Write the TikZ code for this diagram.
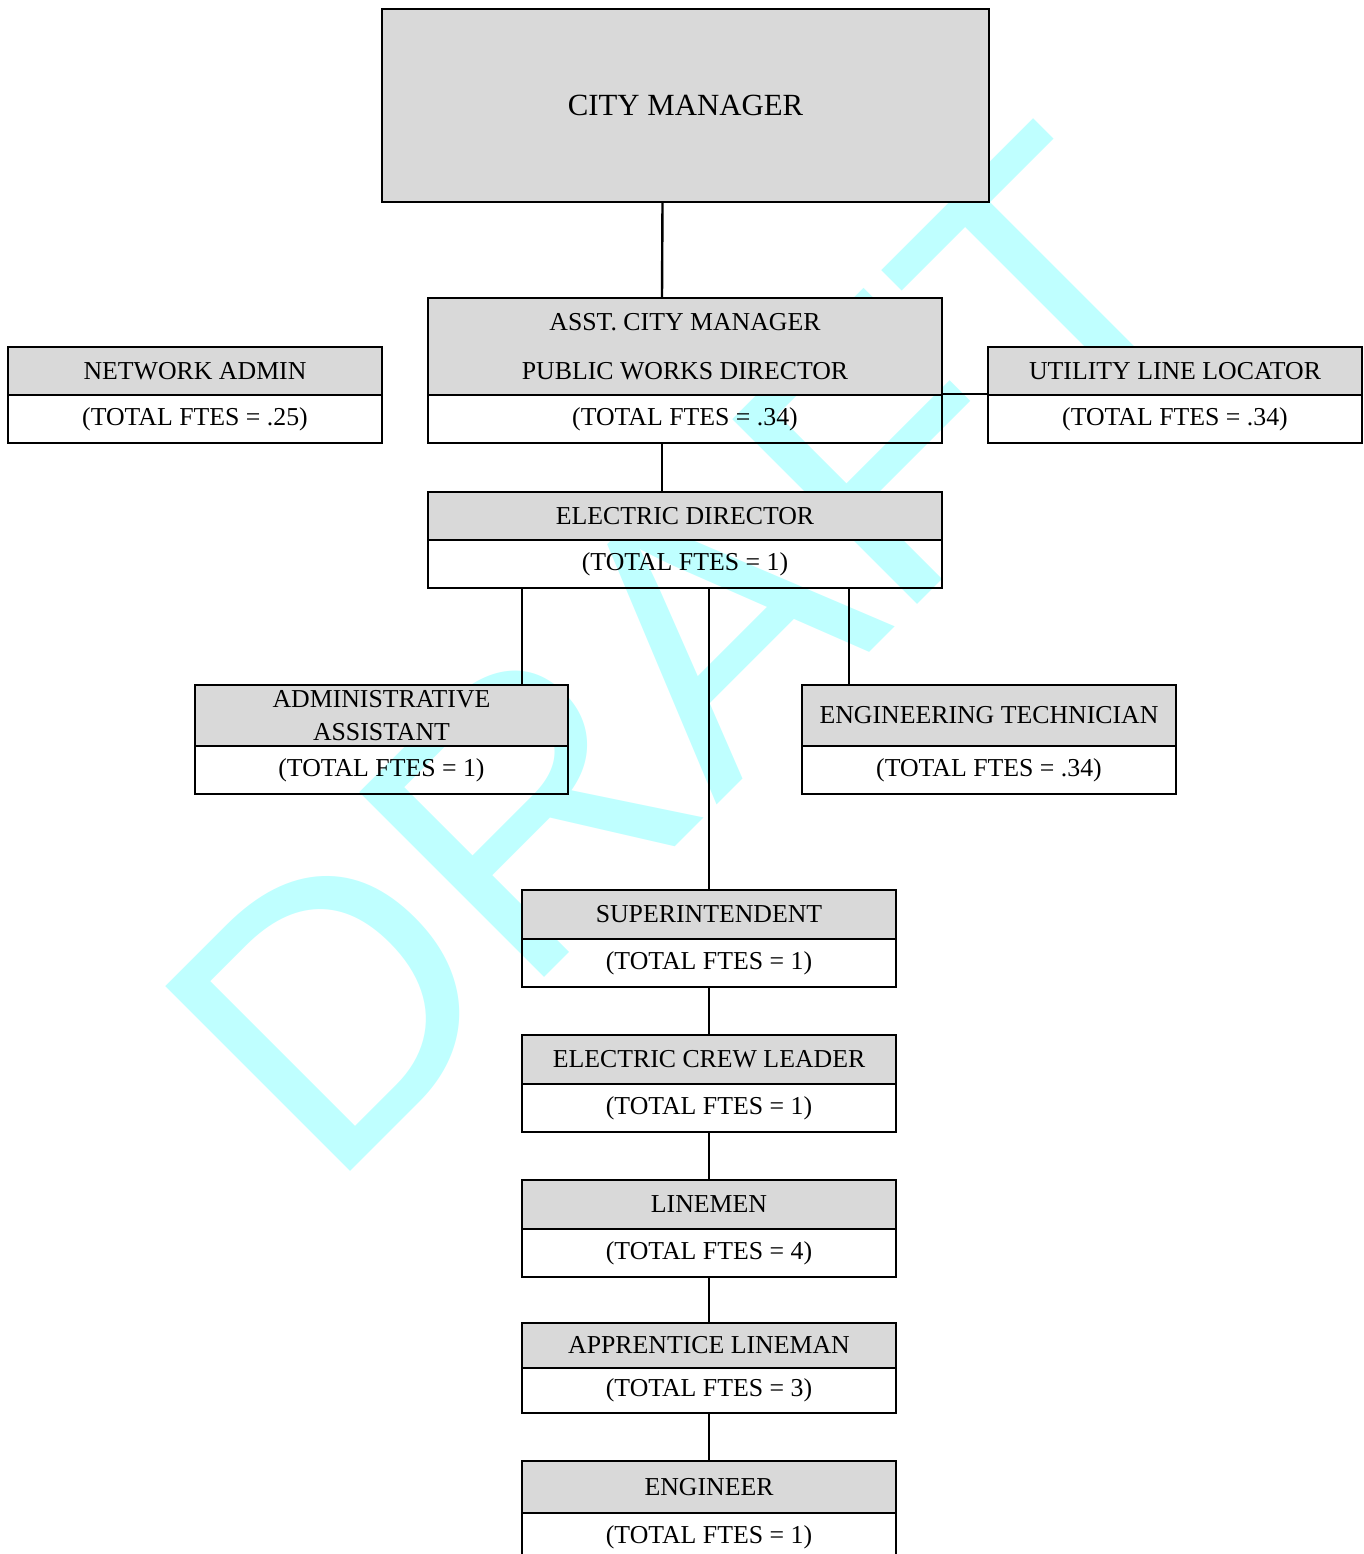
\documentclass[tikz,border=0pt]{standalone}
\usepackage{fontspec}
\setmainfont{Liberation Serif}
\newfontfamily\wmfont{Liberation Sans}
\definecolor{boxgray}{HTML}{D9D9D9}
\definecolor{draftcyan}{RGB}{191,255,255}

\begin{document}
\begin{tikzpicture}[x=0.5pt, y=-0.5pt]
\tikzstyle{head}=[draw, fill=boxgray, line width=1.2pt, minimum width=187pt, minimum height=24pt, inner sep=0pt, align=center, font=\fontsize{12.9}{15.5}\selectfont]
\tikzstyle{fte}=[draw, line width=1.2pt, minimum width=187pt, minimum height=24pt, inner sep=0pt, font=\fontsize{12.9}{15.5}\selectfont]
\tikzstyle{wide}=[minimum width=257pt]
\tikzstyle{link}=[line width=1.2pt]

\useasboundingbox (0,0) rectangle (1364,1554);
\draw (684,653) node[rotate=45, inner sep=0pt, text=draftcyan, font=\wmfont\fontsize{190}{200}\selectfont] (draft) {DRAFT};

\draw (685.5,105.5) node[head, minimum width=303.5pt, minimum height=96.5pt, font=\fontsize{15.4}{18}\selectfont] (cm) {CITY MANAGER};

\draw (685,346.5) node[head, wide, minimum height=48.5pt] (asst) {ASST. CITY MANAGER\\[9pt]PUBLIC WORKS DIRECTOR};
\draw (685,419) node[fte, wide] (asstfte) {(TOTAL FTES = .34)};
\draw (195,371) node[head] (net) {NETWORK ADMIN};
\draw (195,419) node[fte] (netfte) {(TOTAL FTES = .25)};
\draw (1175,371) node[head] (util) {UTILITY LINE LOCATOR};
\draw (1175,419) node[fte] (utilfte) {(TOTAL FTES = .34)};

\draw (685,516) node[head, wide] (elec) {ELECTRIC DIRECTOR};
\draw (685,564) node[fte, wide] (elecfte) {(TOTAL FTES = 1)};

\draw (381.5,715.5) node[head, minimum width=186.5pt, minimum height=30.5pt] (admin) {ADMINISTRATIVE\\[1pt]ASSISTANT};
\draw (381.5,770) node[fte, minimum width=186.5pt] (adminfte) {(TOTAL FTES = 1)};
\draw (989,715.5) node[head, minimum height=30.5pt] (tech) {ENGINEERING TECHNICIAN};
\draw (989,770) node[fte] (techfte) {(TOTAL FTES = .34)};

\draw (709,914.5) node[head, minimum height=24.5pt] (super) {SUPERINTENDENT};
\draw (709,963) node[fte] (superfte) {(TOTAL FTES = 1)};
\draw (709,1059.5) node[head, minimum height=24.5pt] (crew) {ELECTRIC CREW LEADER};
\draw (709,1108) node[fte] (crewfte) {(TOTAL FTES = 1)};
\draw (709,1204.5) node[head, minimum height=24.5pt] (linemen) {LINEMEN};
\draw (709,1253) node[fte] (linemenfte) {(TOTAL FTES = 4)};
\draw (709,1345.5) node[head, minimum height=22.5pt] (appr) {APPRENTICE LINEMAN};
\draw (709,1390.5) node[fte, minimum height=22.5pt] (apprfte) {(TOTAL FTES = 3)};
\draw (709,1487) node[head, minimum height=26pt] (eng) {ENGINEER};
\draw (709,1537) node[fte] (engfte) {(TOTAL FTES = 1)};

\draw[link] ([xshift=-11.5pt]cm.south) -- ([xshift=-11.5pt]asst.north);
\draw[link] (asstfte.north east) -- (utilfte.north west);
\draw[link] ([xshift=-11.5pt]asstfte.south) -- ([xshift=-11.5pt]elec.north);
\draw[link] ([xshift=-81.5pt]elecfte.south) -- ([xshift=-81.5pt]elecfte.south |- admin.north);
\draw[link] (super.north |- elecfte.south) -- (super.north);
\draw[link] ([xshift=82pt]elecfte.south) -- ([xshift=82pt]elecfte.south |- tech.north);
\draw[link] (superfte.south) -- (crew.north);
\draw[link] (crewfte.south) -- (linemen.north);
\draw[link] (linemenfte.south) -- (appr.north);
\draw[link] (apprfte.south) -- (eng.north);
\end{tikzpicture}
\end{document}
